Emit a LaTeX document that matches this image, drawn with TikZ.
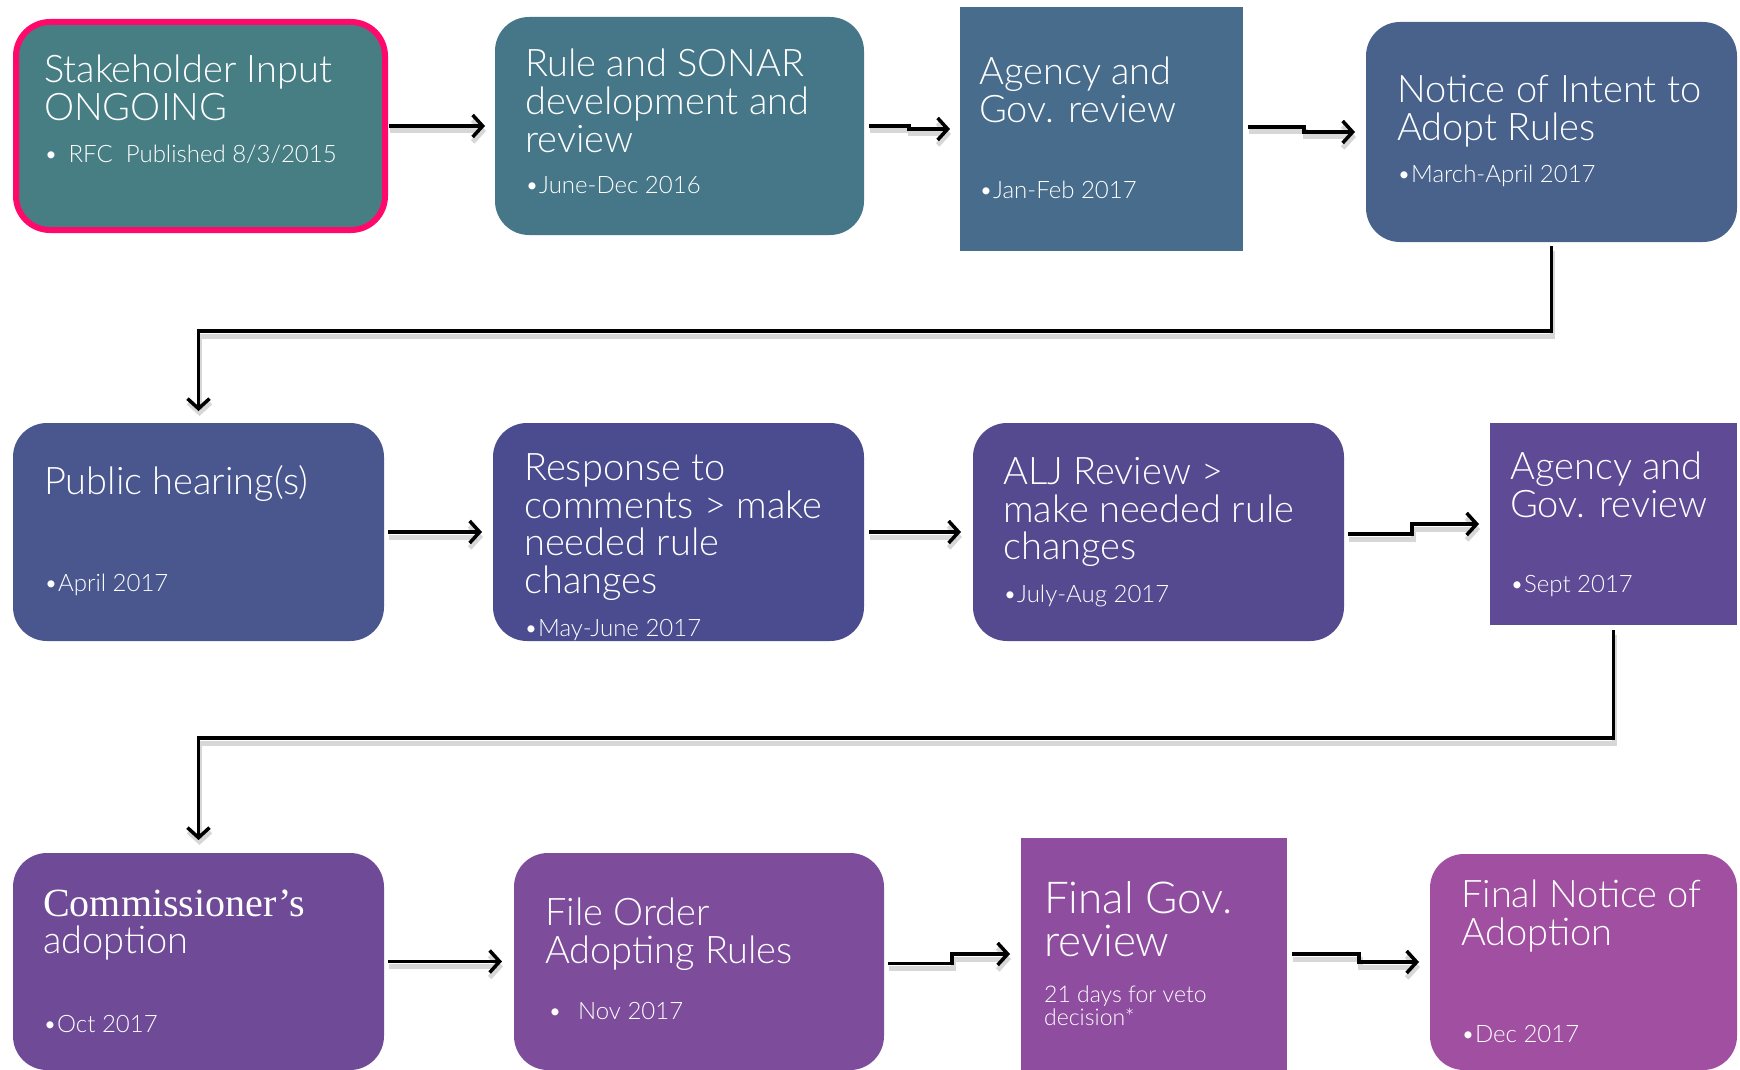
\documentclass[tikz,border=0pt]{standalone}
\usepackage{fontspec}
\setmainfont{Lato Light}
\newfontfamily\serifx{Liberation Serif}
\usetikzlibrary{arrows.meta,calc}
\definecolor{cA}{HTML}{467E84}
\definecolor{cB}{HTML}{457788}
\definecolor{cC}{HTML}{476C8C}
\definecolor{cD}{HTML}{48628C}
\definecolor{cE}{HTML}{4A578F}
\definecolor{cF}{HTML}{4B4C8F}
\definecolor{cG}{HTML}{55498F}
\definecolor{cH}{HTML}{5F4A96}
\definecolor{cI}{HTML}{6E4A97}
\definecolor{cJ}{HTML}{7D4C9B}
\definecolor{cK}{HTML}{8E4D9F}
\definecolor{cL}{HTML}{A04FA1}
\definecolor{pinkb}{HTML}{FF0A6A}
\tikzset{
  rbox/.style={rounded corners=34pt, inner sep=0pt, outer sep=0pt},
  sbox/.style={inner sep=0pt, outer sep=0pt},
  ttl/.style={text=white, align=left, anchor=west, inner sep=0pt, font=\fontsize{38}{37.7}\selectfont},
  sub/.style={text=white, align=left, anchor=west, inner sep=0pt, font=\fontsize{24}{25}\selectfont},
  arr/.style={line width=3.5pt, -{Straight Barb[length=10pt,width=22pt]},
     preaction={draw=black!35, opacity=0.45, line width=5pt, transform canvas={yshift=-5pt,xshift=1pt}}},
}
\begin{document}
\begin{tikzpicture}[x=1pt,y=-1pt]
\useasboundingbox (0,0) rectangle (1740,1070);
% row 1
\node[rbox, fill=cA, draw=pinkb, line width=6pt, minimum width=369pt, minimum height=208pt] (b1) at (200.5,126) {};
\node[rbox, fill=cB, minimum width=369pt, minimum height=218pt] (b2) at (679.5,126) {};
\node[sbox, fill=cC, minimum width=283pt, minimum height=244pt] (b3) at (1101.5,129) {};
\node[rbox, fill=cD, minimum width=371pt, minimum height=220pt] (b4) at (1551.5,132) {};
% row 2
\node[rbox, fill=cE, minimum width=371pt, minimum height=218pt] (b5) at (198.5,532) {};
\node[rbox, fill=cF, minimum width=371pt, minimum height=218pt] (b6) at (678.5,532) {};
\node[rbox, fill=cG, minimum width=371pt, minimum height=218pt] (b7) at (1158.5,532) {};
\node[sbox, fill=cH, minimum width=247pt, minimum height=202pt] (b8) at (1613.5,524) {};
% row 3
\node[rbox, fill=cI, minimum width=371pt, minimum height=217pt] (b9) at (198.5,961.5) {};
\node[rbox, fill=cJ, minimum width=370pt, minimum height=217pt] (b10) at (699,961.5) {};
\node[sbox, fill=cK, minimum width=266pt, minimum height=232pt] (b11) at (1154,954) {};
\node[rbox, fill=cL, minimum width=307pt, minimum height=216pt] (b12) at (1583.5,962) {};
% texts
\node[ttl] (t1) at (44,88) {Stakeholder Input\\ONGOING};
\node[sub] (s1) at (44,154) {•\, RFC\ \ Published 8/3/2015};
\node[ttl] (t2) at (525,101) {Rule and SONAR\\development and\\review};
\node[sub] (s2) at (525,185) {•June-Dec 2016};
\node[ttl] (t3) at (979,90) {Agency and\\Gov. review};
\node[sub] (s3) at (979,190) {•Jan-Feb 2017};
\node[ttl] (t4) at (1397,111) {Notice of Intent to\\Adopt Rules};
\node[sub] (s4) at (1397,176) {•March-April 2017};
\node[ttl] (t5) at (44,484) {Public hearing(s)};
\node[sub] (s5) at (44,585) {•April 2017};
\node[ttl] (t6) at (524,527) {Response to\\comments > make\\needed rule\\changes};
\node[sub] (s6) at (524,630) {•May-June 2017};
\node[ttl] (t7) at (1003,512) {ALJ Review >\\make needed rule\\changes};
\node[sub] (s7) at (1003,596) {•July-Aug 2017};
\node[ttl] (t8) at (1510,485) {Agency and\\Gov. review};
\node[sub] (s8) at (1510,586) {•Sept 2017};
\node[ttl] (t9) at (43,925) {{\serifx\fontsize{40}{37.7}\selectfont Commissioner’s}\\adoption};
\node[sub] (s9) at (43,1024) {•Oct 2017};
\node[ttl] (t10) at (545,934) {File Order\\Adopting Rules};
\node[sub] (s10) at (548,1011) {•\hspace{16pt}Nov 2017};
\node[ttl, font=\fontsize{44}{43}\selectfont] (t11) at (1044,919) {Final Gov.\\review};
\node[sub, font=\fontsize{23}{23}\selectfont] (s11) at (1044,1006) {21 days for veto\\decision*};
\node[ttl] (t12) at (1461,916) {Final Notice of\\Adoption};
\node[sub] (s12) at (1461,1034) {•Dec 2017};
% connectors
\draw[arr, shorten <=4pt, shorten >=10pt] (b1.east) -- (b2.west);
\draw[arr, shorten >=10pt] (b2.east) ++(5,0) -- ++(40,0) |- (b3.west);
\draw[arr, shorten >=11pt] (b3.east) ++(5,-2) -- ++(56,0) |- (b4.west);
\draw[arr, shorten >=12pt] (b4.south) ++(0,4) -- ++(0,85) -| (b5.north);
\draw[arr, shorten <=4pt, shorten >=11pt] (b5.east) -- (b6.west);
\draw[arr, shorten <=5pt, shorten >=12pt] (b6.east) -- (b7.west);
\draw[arr, shorten >=11pt] (b7.east) ++(4,2) -- ++(64,0) |- (b8.west);
\draw[arr, shorten >=13pt] (b8.south) ++(0,5) -- ++(0,108) -| (b9.north);
\draw[arr, shorten <=4pt, shorten >=12pt] (b9.east) -- (b10.west);
\draw[arr, shorten >=11pt] (b10.east) ++(4,2) -- ++(64,0) |- (b11.west);
\draw[arr, shorten >=11pt] (b11.east) ++(5,0) -- ++(67,0) |- (b12.west);
\end{tikzpicture}
\end{document}
